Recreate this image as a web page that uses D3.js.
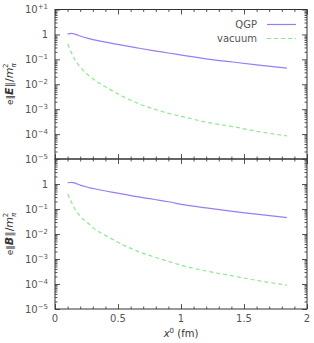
<!DOCTYPE html>
<html lang="en">
<head>
<meta charset="utf-8">
<title>E and B field vs x0</title>
<script src="https://d3js.org/d3.v7.min.js"></script>
<style>
  body { margin: 0; background: #fff; }
  text { font-family: 'DejaVu Sans', sans-serif; font-size: 10px; fill: #555; }
</style>
</head>
<body>
<div id="chart"></div>
<script>
// sampled x0 (fm)
var xsQgp = [0.1, 0.13, 0.16, 0.2, 0.27, 0.35, 0.45, 0.53, 0.65, 0.79, 0.9, 1.03, 1.2, 1.41, 1.6, 1.84];
var eQgp  = [1.03, 1.1, 1.02, 0.86, 0.68, 0.55, 0.44, 0.37, 0.29, 0.22, 0.18, 0.14, 0.105, 0.078, 0.06, 0.044];
var bQgp  = [1.12, 1.17, 1.08, 0.9, 0.72, 0.59, 0.47, 0.4, 0.31, 0.24, 0.195, 0.145, 0.11, 0.08, 0.062, 0.045];

var xsVac = [0.1, 0.13, 0.16, 0.2, 0.27, 0.33, 0.4, 0.53, 0.66, 0.79, 0.9, 1.03, 1.2, 1.41, 1.6, 1.84];
var eVac  = [0.41, 0.19, 0.094, 0.05, 0.022, 0.013, 0.0079, 0.0034, 0.0017, 0.001, 0.00068, 0.00048, 0.0003, 0.0002, 0.00013, 0.000085];
var bVac  = [0.4, 0.19, 0.098, 0.052, 0.025, 0.014, 0.0088, 0.0039, 0.002, 0.0012, 0.0008, 0.00052, 0.00033, 0.00021, 0.00014, 0.00009];

var xTicks = [0, 0.5, 1, 1.5, 2];
var xTickLabels = ["0", "0.5", "1", "1.5", "2"];
var yTicks = [10, 1, 0.1, 0.01, 0.001, 0.0001, 0.00001];
var yExp = ["+1", null, "\u22121", "\u22122", "\u22123", "\u22124", "\u22125"];
var seriesNames = ["QGP", "vacuum"];
var colors = ["#9b7cf2", "#8ee88e"];

var W = 314, H = 343;
var svg = d3.select("#chart").append("svg").attr("width", W).attr("height", H);

var x = d3.scaleLinear().domain([0, 2]).range([55, 307]);
var panels = [
  { y: d3.scaleLog().domain([1e-5, 10]).range([159, 9.5]), qgp: eQgp, vac: eVac, field: "E", top: true },
  { y: d3.scaleLog().domain([1e-5, 10]).range([309, 159]), qgp: bQgp, vac: bVac, field: "B", top: false }
];

var minorY = [];
for (var d = -5; d < 1; d++) for (var m = 2; m <= 9; m++) minorY.push(m * Math.pow(10, d));
var minorX = d3.range(0, 2.0001, 0.1).map(function(v) { return +v.toFixed(1); })
  .filter(function(v) { return xTicks.indexOf(v) < 0; });

panels.forEach(function(p) {
  var y0 = p.y.range()[0], y1 = p.y.range()[1];
  var g = svg.append("g");

  // inward ticks on all four sides
  function ax(gen, tr, vals, size) {
    g.append("g").attr("transform", tr)
      .call(gen.tickValues(vals).tickSize(size).tickFormat(""))
      .call(function(s) { s.select(".domain").remove(); s.selectAll("line").attr("stroke", "#555"); });
  }
  ax(d3.axisLeft(p.y), "translate(55,0)", yTicks, -5);
  ax(d3.axisLeft(p.y), "translate(55,0)", minorY, -2.5);
  ax(d3.axisRight(p.y), "translate(307,0)", yTicks, -5);
  ax(d3.axisRight(p.y), "translate(307,0)", minorY, -2.5);
  ax(d3.axisBottom(x), "translate(0," + y0 + ")", xTicks, -5);
  ax(d3.axisBottom(x), "translate(0," + y0 + ")", minorX, -2.5);
  ax(d3.axisTop(x), "translate(0," + y1 + ")", xTicks, -5);
  ax(d3.axisTop(x), "translate(0," + y1 + ")", minorX, -2.5);

  g.append("rect").attr("x", 55).attr("y", y1).attr("width", 252).attr("height", y0 - y1)
    .attr("fill", "none").attr("stroke", "#333").attr("stroke-width", 1);

  // y tick labels
  yTicks.forEach(function(v, i) {
    if (!p.top && i === 0) return;
    var t = g.append("text").attr("x", 48).attr("y", p.y(v) + 3.5).attr("text-anchor", "end");
    if (yExp[i] === null) { t.text("1"); return; }
    t.append("tspan").text("10");
    t.append("tspan").attr("dy", -4).attr("font-size", 7).text(yExp[i]);
  });

  // y axis title
  var yc = (y0 + y1) / 2;
  var tt = g.append("text").attr("transform", "translate(13," + yc + ") rotate(-90)")
    .attr("text-anchor", "middle").style("fill", "#333").style("font-size", "11px");
  tt.append("tspan").attr("font-size", 9).text("e\u2016");
  tt.append("tspan").attr("font-weight", "bold").attr("font-style", "italic").text(p.field);
  tt.append("tspan").text("\u2016/");
  tt.append("tspan").attr("font-style", "italic").text("m");
  tt.append("tspan").attr("dy", 3).attr("font-size", 7).attr("font-style", "italic").text("\u03c0");
  tt.append("tspan").attr("dy", -8).attr("dx", -4.5).attr("font-size", 7).text("2");

  var line = d3.line().x(function(d) { return x(d[0]); }).y(function(d) { return p.y(d[1]); })
    .curve(d3.curveMonotoneX);
  g.append("path").datum(d3.zip(xsQgp, p.qgp)).attr("d", line)
    .attr("fill", "none").attr("stroke", colors[0]).attr("stroke-width", 1.2);
  g.append("path").datum(d3.zip(xsVac, p.vac)).attr("d", line)
    .attr("fill", "none").attr("stroke", colors[1]).attr("stroke-width", 1.2)
    .attr("stroke-dasharray", "4,3");
});

// x tick labels and title
xTicks.forEach(function(v, i) {
  svg.append("text").attr("x", x(v)).attr("y", 322).attr("text-anchor", "middle").text(xTickLabels[i]);
});
var xt = svg.append("text").attr("x", x(1)).attr("y", 337).attr("text-anchor", "middle").style("fill", "#333");
xt.append("tspan").attr("font-style", "italic").text("x");
xt.append("tspan").attr("dy", -4).attr("font-size", 7).text("0");
xt.append("tspan").attr("dy", 4).text(" (fm)");

// legend
var leg = svg.append("g");
seriesNames.forEach(function(n, i) {
  var ly = 24.5 + i * 14;
  leg.append("text").attr("x", 257).attr("y", ly + 3.5).attr("text-anchor", "end").text(n);
  leg.append("line").attr("x1", 267).attr("x2", 296).attr("y1", ly).attr("y2", ly)
    .attr("stroke", colors[i]).attr("stroke-width", 1.2)
    .attr("stroke-dasharray", i === 1 ? "4,3" : null);
});
</script>
</body>
</html>
